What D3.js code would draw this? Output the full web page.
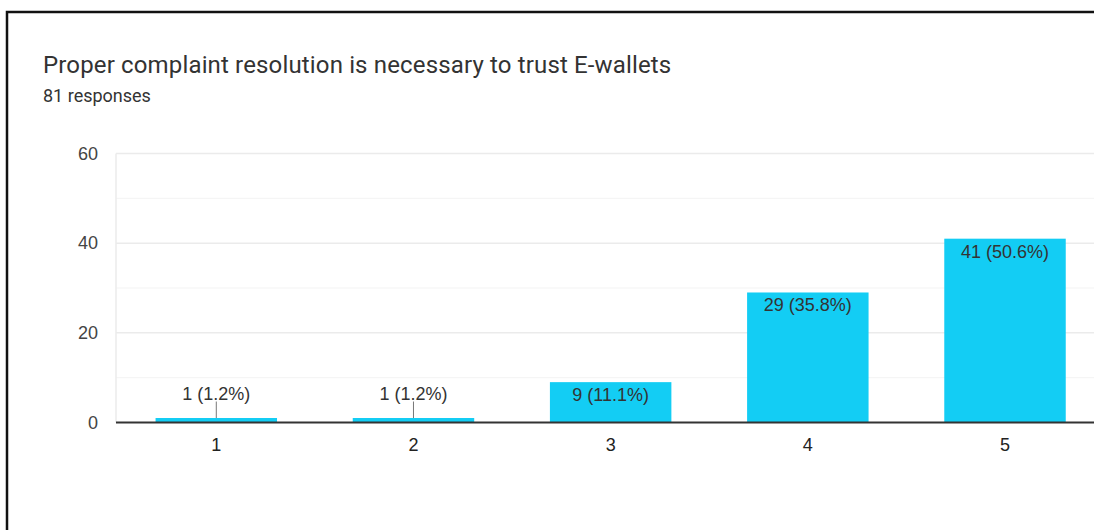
<!DOCTYPE html>
<html>
<head>
<meta charset="utf-8">
<script src="https://cdn.jsdelivr.net/npm/d3@7"></script>
<style>
  html, body { margin: 0; padding: 0; background: #fff; }
  svg { display: block; font-family: Roboto, Arial, sans-serif; }
</style>
</head>
<body>
<svg id="chart" width="1094" height="530"></svg>
<script>
// Survey answers on a 1–5 scale
const categories = ["1", "2", "3", "4", "5"];
const counts = [1, 1, 9, 29, 41];
const percents = ["1.2%", "1.2%", "11.1%", "35.8%", "50.6%"];
const yTicks = [0, 20, 40, 60];
const yMinorTicks = [10, 30, 50];
const title = "Proper complaint resolution is necessary to trust E-wallets";
const subtitle = "81 responses";

const svg = d3.select("#chart");
const W = 1094, H = 530;
const labelFont = "'Liberation Sans', Arial, sans-serif";

// outer frame
svg.append("path")
  .attr("d", `M7,${H} V12 H${W}`)
  .attr("fill", "none")
  .attr("stroke", "#111")
  .attr("stroke-width", 2.5);

svg.append("text")
  .attr("x", 43).attr("y", 73)
  .attr("font-size", 24)
  .attr("letter-spacing", 0.15)
  .attr("fill", "#333")
  .text(title);

svg.append("text")
  .attr("x", 43).attr("y", 102)
  .attr("font-size", 18)
  .attr("fill", "#333")
  .text(subtitle);

const plot = { left: 116, top: 153.5, bottom: 422.5 };

const x = d3.scaleBand()
  .domain(categories)
  .range([117.7, 1103.6])
  .paddingInner(0.384)
  .paddingOuter(0.192);

const y = d3.scaleLinear()
  .domain([0, 60])
  .range([plot.bottom, plot.top]);

// gridlines
const grid = svg.append("g");
grid.selectAll("line.minor")
  .data(yMinorTicks)
  .join("line")
  .attr("class", "minor")
  .attr("x1", plot.left).attr("x2", W)
  .attr("y1", d => y(d)).attr("y2", d => y(d))
  .attr("stroke", "#f3f3f3").attr("stroke-width", 1);
grid.selectAll("line.major")
  .data(yTicks.filter(d => d > 0))
  .join("line")
  .attr("class", "major")
  .attr("x1", plot.left).attr("x2", W)
  .attr("y1", d => y(d)).attr("y2", d => y(d))
  .attr("stroke", "#ebebeb").attr("stroke-width", 1.5);
grid.append("line")
  .attr("x1", plot.left).attr("x2", plot.left)
  .attr("y1", plot.top).attr("y2", plot.bottom)
  .attr("stroke", "#ebebeb").attr("stroke-width", 1.5);

// y axis labels
const yAxis = svg.append("g")
  .attr("transform", `translate(${plot.left - 18},0)`)
  .call(d3.axisLeft(y).tickValues(yTicks).tickSize(0).tickPadding(0));
yAxis.select(".domain").remove();
yAxis.selectAll("text")
  .attr("font-size", 18)
  .attr("font-family", labelFont)
  .attr("fill", "#444");

// bars
svg.append("g").selectAll("rect")
  .data(counts)
  .join("rect")
  .attr("x", (d, i) => x(categories[i]))
  .attr("width", x.bandwidth())
  .attr("y", d => y(d))
  .attr("height", d => y(0) - y(d))
  .attr("fill", "#13cdf4");

// baseline & x labels
const xAxis = svg.append("g")
  .attr("transform", `translate(0,${plot.bottom})`)
  .call(d3.axisBottom(x).tickSize(0).tickPadding(16));
xAxis.select(".domain")
  .attr("d", `M${plot.left},0H${W}`)
  .attr("stroke", "#333")
  .attr("stroke-width", 2);
xAxis.selectAll("text")
  .attr("font-size", 18)
  .attr("font-family", labelFont)
  .attr("fill", "#222");

// value labels
const labels = svg.append("g")
  .attr("font-size", 18)
  .attr("font-family", labelFont)
  .attr("fill", "#333")
  .attr("text-anchor", "middle");
counts.forEach((c, i) => {
  const cx = x(categories[i]) + x.bandwidth() / 2;
  const label = `${c} (${percents[i]})`;
  const barH = y(0) - y(c);
  if (barH > 24) {
    labels.append("text")
      .attr("x", cx).attr("y", y(c) + 19)
      .text(label);
  } else {
    labels.append("line")
      .attr("x1", cx).attr("x2", cx)
      .attr("y1", y(c) - 16.5).attr("y2", y(c))
      .attr("stroke", "#777").attr("stroke-width", 1);
    labels.append("text")
      .attr("x", cx).attr("y", y(c) - 18.5)
      .text(label);
  }
});
</script>
</body>
</html>
